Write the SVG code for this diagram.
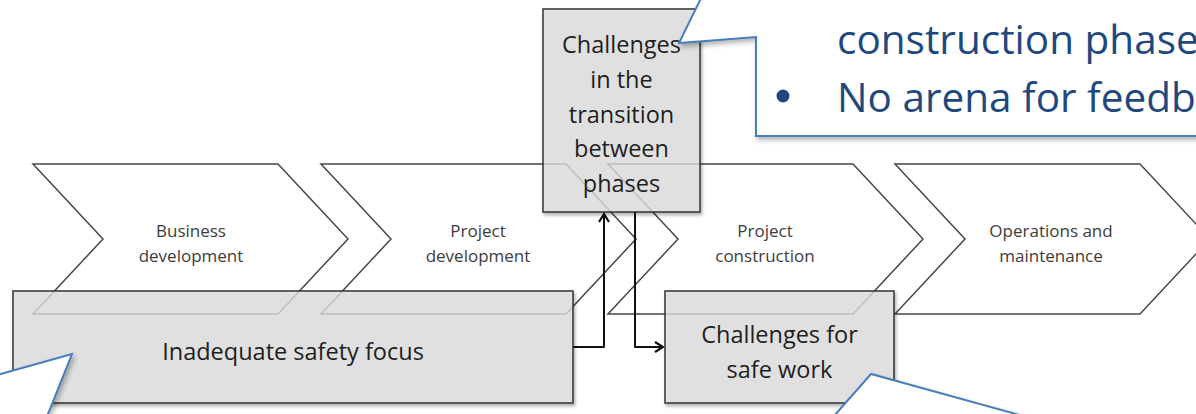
<svg xmlns="http://www.w3.org/2000/svg" width="1196" height="414" viewBox="0 0 1196 414">
<style>
.chev{fill:#ffffff;stroke:#474747;stroke-width:1.5;stroke-linejoin:miter}
.ctext{font-family:"Open Sans","Liberation Sans",sans-serif;font-size:17px;fill:#3c3c3c;text-anchor:middle}
.box{fill:#e2e2e2;fill-opacity:0.75;stroke:#333333;stroke-width:1.5}
.btext{font-family:"Open Sans","Liberation Sans",sans-serif;font-size:23.5px;fill:#1e1e1e;text-anchor:middle}
.conn{fill:none;stroke:#111111;stroke-width:2;stroke-linejoin:round}
.callout{fill:#ffffff;stroke:#4a7ebb;stroke-width:2;stroke-linejoin:miter}
.qtext{font-family:"Open Sans","Liberation Sans",sans-serif;font-size:40.5px;fill:#1f497d}
</style>
<defs>
<marker id="arr" viewBox="0 0 12 12" refX="10" refY="6" markerWidth="12" markerHeight="12" markerUnits="userSpaceOnUse" orient="auto">
<path d="M2,1 L10,6 L2,11" fill="none" stroke="#111111" stroke-width="2.2"/>
</marker>
<filter id="sh" x="-10%" y="-10%" width="130%" height="140%">
<feDropShadow dx="1.5" dy="2.5" stdDeviation="1.5" flood-color="#000000" flood-opacity="0.35"/>
</filter>
<filter id="csh" x="-10%" y="-20%" width="130%" height="150%">
<feDropShadow dx="2" dy="3" stdDeviation="2.5" flood-color="#000000" flood-opacity="0.3"/>
</filter>
</defs>
<rect x="0" y="0" width="1196" height="414" fill="#ffffff"/>

<g id="chevron-business-development">
<polygon class="chev" points="33,164 278,164 348,239 278,314 33,314 103,239"/>
<text class="ctext" x="191" y="237">Business</text>
<text class="ctext" x="191" y="262">development</text>
</g>
<g id="chevron-project-development">
<polygon class="chev" points="321,164 566,164 636,239 566,314 321,314 391,239"/>
<text class="ctext" x="478" y="237">Project</text>
<text class="ctext" x="478" y="262">development</text>
</g>
<g id="chevron-project-construction">
<polygon class="chev" points="608,164 853,164 923,239 853,314 608,314 678,239"/>
<text class="ctext" x="765" y="237">Project</text>
<text class="ctext" x="765" y="262">construction</text>
</g>
<g id="chevron-operations">
<polygon class="chev" points="895,164 1140,164 1210,239 1140,314 895,314 965,239"/>
<text class="ctext" x="1051" y="237">Operations and</text>
<text class="ctext" x="1051" y="262">maintenance</text>
</g>

<g id="box-inadequate-safety-focus">
<rect class="box" x="13" y="291" width="560" height="112" filter="url(#sh)"/>
<text class="btext" x="293" y="360">Inadequate safety focus</text>
</g>
<g id="box-transition">
<rect class="box" x="543" y="9" width="157" height="203" filter="url(#sh)"/>
<text class="btext" x="621.5" y="53">Challenges</text>
<text class="btext" x="621.5" y="88">in the</text>
<text class="btext" x="621.5" y="123">transition</text>
<text class="btext" x="621.5" y="157">between</text>
<text class="btext" x="621.5" y="192">phases</text>
</g>
<g id="box-safe-work">
<rect class="box" x="665" y="291" width="229" height="112" filter="url(#sh)"/>
<text class="btext" x="779.5" y="343">Challenges for</text>
<text class="btext" x="779.5" y="378">safe work</text>
</g>

<g id="connectors">
<path class="conn" d="M573,347 H604 V214" marker-end="url(#arr)"/>
<path class="conn" d="M635,212 V347 H663" marker-end="url(#arr)"/>
</g>

<g id="callout-top-right">
<polygon class="callout" filter="url(#csh)" points="710,-20 679,43 756,37 756,136 1210,136 1210,-20"/>
<text class="qtext" x="837" y="54">construction phase</text>
<circle cx="783" cy="96" r="6.5" fill="#1f497d"/>
<text class="qtext" x="837" y="112">No arena for feedb</text>
</g>
<g id="callout-bottom-left">
<polygon class="callout" filter="url(#csh)" points="-10,377 72,354 44,424 -10,424"/>
</g>
<g id="callout-bottom-right">
<polygon class="callout" filter="url(#csh)" points="871,374 827,424 1052,424"/>
</g>
</svg>
